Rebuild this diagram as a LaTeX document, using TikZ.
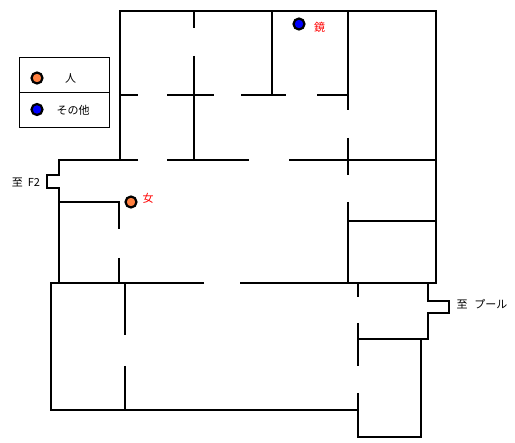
\documentclass[tikz,border=0pt]{standalone}
\usepackage{fontspec}
\newfontfamily\jpfont{Noto Sans CJK JP}
\definecolor{personcol}{RGB}{255,128,64}
\tikzset{
	wall/.style={draw,line width=2.4pt,miter limit=10},
	legendbox/.style={draw,line width=1pt},
	dot/.style={circle,draw,line width=2.2pt,inner sep=0pt,minimum size=11pt},
	person/.style={dot,fill=personcol},
	other/.style={dot,fill=blue},
	label/.style={inner sep=0pt,font=\jpfont\fontsize{11}{12}\selectfont},
	redlabel/.style={label,text=red}
}
\begin{document}
\begin{tikzpicture}[x=1pt,y=-1pt]
	\useasboundingbox[fill=white] (0,0) rectangle (515,443);

	% upper block
	\draw[wall] (120,160) -- (120,11) -- (436,11) -- (436,284);
	\draw[wall] (194,11) -- (194,28);
	\draw[wall] (194,56) -- (194,160);
	\draw[wall] (272,11) -- (272,95);
	\draw[wall] (348,11) -- (348,110.5);
	\draw[wall] (348,138) -- (348,175);
	\draw[wall] (348,202) -- (348,283);
	\draw[wall] (120,95) -- (138,95);
	\draw[wall] (167,95) -- (214,95);
	\draw[wall] (241,95) -- (286,95);
	\draw[wall] (317,95) -- (348,95);
	\draw[wall] (167,160) -- (249,160);
	\draw[wall] (289,160) -- (436,160);
	\draw[wall] (348,221) -- (436,221);

	% corridor and stub to F2
	\draw[wall] (138,160) -- (59,160) -- (59,175) -- (47,175) -- (47,188) -- (59,188) -- (59,283);
	\draw[wall] (59,202) -- (119,202) -- (119,229);
	\draw[wall] (119,258) -- (119,283);

	% lower block
	\draw[wall] (204,283) -- (51,283) -- (51,410) -- (358,410);
	\draw[wall] (240,283) -- (436,283);
	\draw[wall] (125,283) -- (125,335);
	\draw[wall] (125,366) -- (125,410);
	\draw[wall] (358,283) -- (358,297);
	\draw[wall] (358,323) -- (358,366);
	\draw[wall] (358,393) -- (358,437) -- (421,437) -- (421,339);
	\draw[wall] (358,339) -- (428,339) -- (428,313) -- (449,313) -- (449,301) -- (428,301) -- (428,283);

	% legend
	\draw[legendbox] (19.5,57.5) rectangle (109.5,127.5);
	\draw[legendbox] (19.5,92.5) -- (109.5,92.5);
	\node[person] (keyperson) at (37,78) {};
	\node[other] (keyother) at (37,109.5) {};
	\node[label] (keypersontext) at (70.5,78) {人};
	\node[label] (keyothertext) at (73,110.5) {その他};

	% marks on the plan
	\node[person] (woman) at (131,202) {};
	\node[redlabel] (womantext) at (148,198) {女};
	\node[other] (mirror) at (299,24) {};
	\node[redlabel] (mirrortext) at (319.5,27) {鏡};

	\node[label] (toftwo) at (26,182) {至\hspace{5pt}F2};
	\node[label] (topool) at (482,304) {至\hspace{7pt}プール};
\end{tikzpicture}
\end{document}
